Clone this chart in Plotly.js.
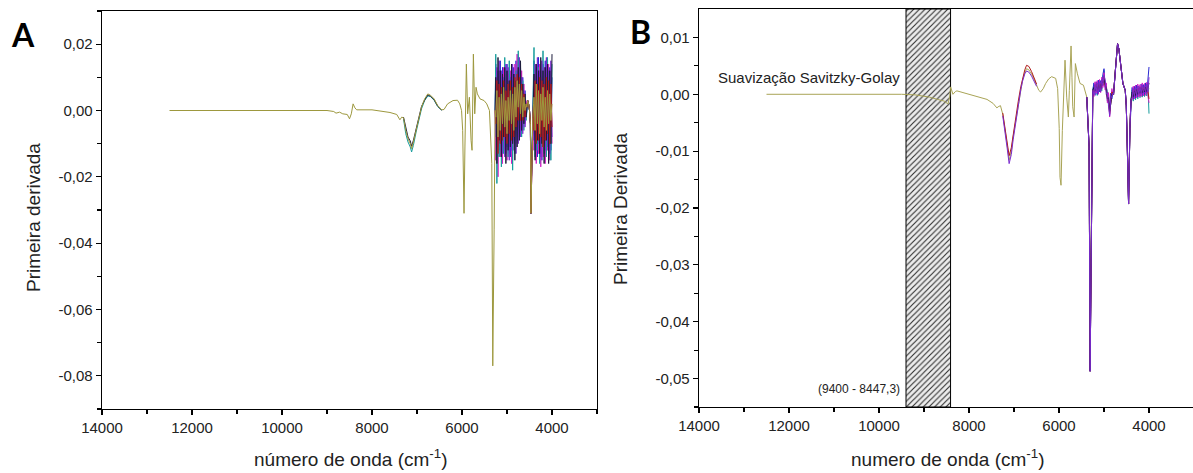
<!DOCTYPE html>
<html>
<head>
<meta charset="utf-8">
<script src="https://cdn.plot.ly/plotly-3.0.1.min.js"></script>
<style>html,body{margin:0;padding:0;background:#fff;}#chart{width:1193px;height:473px;}</style>
</head>
<body>
<div id="chart"></div>
<script>
// ---------- Panel A (primeira derivada, sem suavização) ----------
const A_head_x = [12500,12000,11500,11200,11000,10500,10000,9500,9000,8850,8800,8720,8650,8550,8500,8460,8420,8380,8340,8000,7800,7600,7450,7380,7340,7300,7250,7200,7150,7120,7080,7020,6950,6900,6830,6760,6700,6620,6540,6450,6400,6320,6200,6100,6050,6010,5985,5955,5935,5903,5874,5836,5799,5777,5747,5717,5688,5658,5600,5510,5450,5390,5338,5316,5286,5264];
const A_head_y = [0.0000,0.0000,0.0000,-0.0002,0.0000,-0.0001,0.0000,0.0000,0.0000,-0.0003,-0.0008,-0.0005,-0.0010,-0.0012,-0.0025,-0.0010,0.0020,0.0008,0.0002,0.0002,-0.0001,-0.0006,-0.0012,-0.0028,-0.0020,-0.0022,-0.0060,-0.0085,-0.0100,-0.0115,-0.0095,-0.0060,-0.0020,0.0010,0.0035,0.0050,0.0046,0.0035,0.0015,0.0002,0.0003,0.0020,0.0030,0.0031,0.0020,0.0000,-0.0060,-0.0310,-0.0110,0.0140,-0.0010,0.0040,-0.0090,-0.0120,0.0170,-0.0010,0.0070,0.0050,0.0035,0.0030,0.0020,0.0000,-0.0160,-0.0770,-0.0360,0.0000];

const A1_x = [5250,5225,5200,5175,5150,5125,5100,5075,5050,5025,5000,4975,4950,4925,4900,4875,4850,4825,4800,4775,4750,4725,4700,4675,4650,4625,4600,4575];
const A1_olive   = [-0.002,0.006,-0.008,0.004,-0.006,0.005,-0.004,0.007,-0.005,0.003,-0.007,0.004,-0.003,0.006,-0.004,0.005,-0.006,0.007,-0.002,0.009,0.001,0.008,-0.001,0.006,-0.002,0.004,0.000,0.002];
const A1_blue    = [0.014,-0.010,0.012,-0.012,0.015,-0.008,0.013,-0.011,0.011,-0.013,0.014,-0.009,0.012,-0.014,0.010,-0.012,0.013,-0.010,0.015,-0.006,0.016,-0.004,0.013,-0.005,0.010,-0.003,0.006,-0.002];
const A1_magenta = [-0.015,0.010,-0.020,0.012,-0.014,0.009,-0.016,0.013,-0.012,0.010,-0.015,0.011,-0.013,0.012,-0.016,0.009,-0.012,0.014,-0.010,0.017,-0.008,0.015,-0.006,0.012,-0.005,0.008,-0.004,0.003];
const A1_teal    = [0.017,-0.022,0.009,-0.014,0.011,-0.017,0.008,-0.013,0.016,-0.010,0.009,-0.014,0.015,-0.009,0.012,-0.018,0.010,-0.013,0.012,-0.009,0.018,-0.007,0.011,-0.008,0.009,-0.006,0.004,-0.003];
const A1_purple  = [-0.008,0.013,-0.011,0.015,-0.009,0.012,-0.013,0.010,-0.014,0.014,-0.011,0.013,-0.015,0.010,-0.012,0.014,-0.009,0.011,-0.013,0.012,-0.010,0.016,-0.008,0.010,-0.007,0.006,-0.005,0.001];
const A1_black   = [0.010,-0.016,0.016,-0.009,0.012,-0.014,0.011,-0.008,0.013,-0.016,0.012,-0.012,0.009,-0.011,0.014,-0.010,0.011,-0.015,0.009,-0.011,0.013,-0.009,0.015,-0.006,0.008,-0.004,0.005,-0.002];
const A1_red     = [-0.004,0.009,-0.013,0.008,-0.010,0.007,-0.009,0.009,-0.008,0.006,-0.010,0.008,-0.007,0.009,-0.009,0.007,-0.008,0.010,-0.005,0.011,-0.003,0.010,-0.003,0.008,-0.003,0.005,-0.002,0.002];

const A_mid_x = [4560,4540,4520,4500,4480,4468,4455,4440,4425,4410];
const A_mid_y = [0.001,0.003,0.002,0.000,-0.004,-0.031,-0.020,-0.010,-0.002,0.002];

const A2_x = [4400,4375,4350,4325,4300,4275,4250,4225,4200,4175,4150,4125,4100,4075,4050,4025,4000];
const A2_olive   = [0.004,-0.006,0.008,-0.004,0.006,-0.007,0.005,-0.003,0.007,-0.005,0.004,-0.006,0.006,-0.004,0.005,-0.003,0.002];
const A2_blue    = [0.015,-0.010,0.013,-0.014,0.016,-0.009,0.012,-0.015,0.014,-0.011,0.015,-0.013,0.011,-0.010,0.013,-0.012,0.010];
const A2_magenta = [-0.012,0.011,-0.016,0.012,-0.013,0.014,-0.017,0.010,-0.014,0.013,-0.016,0.011,-0.012,0.014,-0.015,0.012,-0.010];
const A2_teal    = [0.019,-0.014,0.010,-0.012,0.013,-0.016,0.009,-0.011,0.018,-0.013,0.010,-0.014,0.016,-0.012,0.011,-0.015,0.014];
const A2_purple  = [-0.009,0.014,-0.012,0.016,-0.010,0.012,-0.014,0.015,-0.009,0.013,-0.012,0.016,-0.011,0.012,-0.013,0.015,-0.008];
const A2_black   = [0.011,-0.015,0.014,-0.009,0.012,-0.013,0.016,-0.010,0.012,-0.016,0.013,-0.009,0.014,-0.016,0.012,-0.010,0.017];
const A2_red     = [-0.006,0.009,-0.010,0.008,-0.009,0.010,-0.008,0.009,-0.011,0.008,-0.009,0.010,-0.007,0.009,-0.010,0.008,-0.005];

const A_dip_x = [7300,7250,7200,7150,7120,7080,7020,6950,6900,6830,6760,6700,6620,6540,6450];
const A_dip_teal  = [-0.0025,-0.0070,-0.0095,-0.0110,-0.0125,-0.0105,-0.0065,-0.0025,0.0005,0.0030,0.0044,0.0042,0.0031,0.0012,0.0001];
const A_dip_black = [-0.0020,-0.0055,-0.0080,-0.0092,-0.0108,-0.0090,-0.0055,-0.0018,0.0012,0.0032,0.0047,0.0043,0.0033,0.0013,0.0001];

// ---------- Panel B (Savitzky-Golay) ----------
const B_head_x = [12500,12000,11500,11000,10500,10000,9500,9200,9000,8877,8700,8550,8468,8430,8409,8380,8357,8300,8268,8134,7900,7762,7600,7465,7380,7353,7301,7250,7204,7150,7108,7060,7019,6960,6907,6850,6810,6760,6721,6670,6610,6550,6498,6450,6409,6350,6297,6230,6164,6074,6030,5995,5978,5955,5926,5888,5866,5829,5792,5770,5732,5712,5695,5665,5636,5591,5532,5457,5383,5331,5309,5279,5249];
const B_head_y = [0.0000,0.0000,0.0000,0.0001,0.0000,0.0000,0.0000,-0.0001,-0.0003,-0.0005,-0.0009,-0.0012,-0.0017,-0.0005,0.0013,0.0004,0.0000,0.0005,0.0006,0.0003,-0.0002,-0.0005,-0.0009,-0.0016,-0.0024,-0.0022,-0.0020,-0.0035,-0.0058,-0.0090,-0.0116,-0.0100,-0.0075,-0.0045,-0.0016,0.0010,0.0025,0.0038,0.0045,0.0043,0.0036,0.0026,0.0016,0.0007,0.0004,0.0010,0.0019,0.0027,0.0031,0.0028,0.0010,-0.0060,-0.0146,-0.0160,-0.0064,0.0042,0.0060,-0.0005,-0.0040,0.0007,0.0085,0.0030,-0.0022,-0.0040,0.0054,0.0036,0.0019,0.0016,-0.0005,-0.0093,-0.0487,-0.0180,0.0007];

const B_lead_x = [5383,5331,5309,5279,5249];
const B_lead_y = [-0.0005,-0.0093,-0.0487,-0.0180,0.0007];

const B1_x = [5225,5200,5175,5150,5125,5100,5075,5050,5025,5000,4975,4950,4925,4900,4875,4850,4825,4800];
const B1_olive   = [0.0010,0.0004,0.0015,0.0006,0.0016,0.0011,0.0014,0.0015,0.0025,0.0028,0.0022,0.0006,-0.0002,-0.0012,-0.0026,-0.0012,0.0002,0.0001];
const B1_blue    = [0.0020,-0.0002,0.0022,0.0000,0.0025,0.0005,0.0024,0.0010,0.0035,0.0045,0.0012,0.0018,-0.0012,0.0002,-0.0036,0.0002,-0.0008,0.0004];
const B1_magenta = [-0.0004,0.0022,0.0002,0.0024,0.0000,0.0026,0.0003,0.0030,0.0012,0.0038,0.0008,0.0020,-0.0015,0.0003,-0.0040,-0.0005,0.0010,0.0000];
const B1_teal    = [0.0016,0.0002,0.0020,-0.0002,0.0022,0.0004,0.0020,0.0006,0.0030,0.0042,0.0014,0.0012,0.0005,-0.0020,-0.0022,-0.0018,0.0006,0.0003];
const B1_purple  = [0.0000,0.0018,0.0004,0.0020,0.0002,0.0022,0.0004,0.0026,0.0015,0.0034,0.0025,0.0000,0.0002,-0.0016,-0.0038,-0.0008,-0.0004,0.0002];
const B1_black   = [0.0012,0.0006,0.0010,0.0014,0.0008,0.0018,0.0010,0.0022,0.0020,0.0026,0.0018,0.0010,-0.0008,-0.0006,-0.0030,-0.0012,0.0000,0.0001];
const B1_red     = [0.0004,0.0016,0.0006,0.0018,0.0006,0.0020,0.0008,0.0024,0.0016,0.0032,0.0016,0.0004,0.0000,-0.0014,-0.0034,-0.0006,0.0004,0.0002];

const B_mid_x = [4788,4750,4720,4699,4670,4639,4610,4580,4528,4505,4491,4454,4424,4401];
const B_mid_y = [0.0000,0.0040,0.0075,0.0089,0.0080,0.0060,0.0035,0.0019,0.0007,-0.0020,-0.0064,-0.0193,-0.0060,-0.0010];

const B2_x = [4375,4350,4325,4300,4275,4250,4225,4200,4175,4150,4125,4100,4075,4050,4025,4000];
const B2_olive   = [0.0000,0.0006,-0.0002,0.0008,0.0000,0.0010,0.0002,0.0009,0.0003,0.0012,0.0004,0.0011,0.0005,0.0013,0.0006,0.0010];
const B2_blue    = [0.0012,-0.0008,0.0014,-0.0006,0.0016,-0.0004,0.0015,-0.0003,0.0018,-0.0002,0.0017,0.0000,0.0020,0.0002,0.0022,0.0048];
const B2_magenta = [-0.0010,0.0014,-0.0008,0.0016,-0.0006,0.0018,-0.0005,0.0017,-0.0004,0.0020,-0.0003,0.0019,-0.0002,0.0021,0.0000,-0.0015];
const B2_teal    = [0.0008,-0.0012,0.0010,-0.0010,0.0012,-0.0008,0.0011,-0.0006,0.0014,-0.0005,0.0016,-0.0004,0.0018,-0.0003,0.0016,-0.0034];
const B2_purple  = [-0.0006,0.0010,-0.0004,0.0012,-0.0002,0.0014,0.0000,0.0013,0.0001,0.0016,0.0002,0.0015,0.0003,0.0018,0.0004,0.0030];
const B2_black   = [0.0004,-0.0004,0.0006,-0.0002,0.0008,0.0000,0.0007,0.0002,0.0010,0.0003,0.0009,0.0004,0.0012,0.0005,0.0010,0.0020];
const B2_red     = [-0.0003,0.0008,-0.0001,0.0010,0.0002,0.0011,0.0001,0.0012,0.0003,0.0013,0.0004,0.0014,0.0005,0.0015,0.0006,-0.0008];

const B_dip_x = [7250,7204,7150,7108,7060,7019,6960,6907,6850,6810,6760,6721,6670,6610,6550,6498];
const B_dip_purple = [-0.0038,-0.0062,-0.0096,-0.0122,-0.0106,-0.0080,-0.0048,-0.0018,0.0008,0.0023,0.0036,0.0041,0.0039,0.0032,0.0023,0.0014];
const B_dip_red    = [-0.0033,-0.0055,-0.0085,-0.0108,-0.0094,-0.0070,-0.0042,-0.0013,0.0013,0.0028,0.0043,0.0051,0.0049,0.0040,0.0029,0.0018];

// excluded region (hatched)
const B_excl_x = [9400, 8410];

// ---------- ticks ----------
const X_ticks = [14000,12000,10000,8000,6000,4000];
const X_ticktext = ['14000','12000','10000','8000','6000','4000'];
const X_minor = [13000,11000,9000,7000,5000,3000];
const A_yticks = [0.02,0,-0.02,-0.04,-0.06,-0.08];
const A_ytext = ['0,02','0,00','-0,02','-0,04','-0,06','-0,08'];
const A_yminor = [0.03,0.01,-0.01,-0.03,-0.05,-0.07,-0.09];
const B_yticks = [0.01,0,-0.01,-0.02,-0.03,-0.04,-0.05];
const B_ytext = ['0,01','0,00','-0,01','-0,02','-0,03','-0,04','-0,05'];
const B_yminor = [0.005,-0.005,-0.015,-0.025,-0.035,-0.045,-0.055];

// ---------- colours ----------
const OLIVE = '#9d983e';
const OLIVE_B = '#a9a456';
const COLS = {blue:'#2a2ad2', magenta:'#d41ec6', teal:'#169c9c', purple:'#7b2bd0', black:'#1c1c3c', red:'#b01a1a'};

const traces = [];
function line(x, y, color, xa, ya, w) {
  traces.push({type:'scatter', mode:'lines', x:x, y:y, xaxis:xa, yaxis:ya,
    line:{color:color, width:w||1}, hoverinfo:'skip', showlegend:false});
}

// Panel A
const A_series = {blue:[A1_blue,A2_blue], magenta:[A1_magenta,A2_magenta], teal:[A1_teal,A2_teal],
  purple:[A1_purple,A2_purple], black:[A1_black,A2_black], red:[A1_red,A2_red]};
const A_noise_x = [5264].concat(A1_x, A_mid_x, A2_x);
for (const k in A_series) {
  line(A_noise_x, [0].concat(A_series[k][0], A_mid_y, A_series[k][1]), COLS[k], 'x', 'y');
}
line(A_dip_x, A_dip_teal, COLS.teal, 'x', 'y');
line(A_dip_x, A_dip_black, COLS.black, 'x', 'y');
line(A_head_x.concat(A1_x, A_mid_x, A2_x), A_head_y.concat(A1_olive, A_mid_y, A2_olive), OLIVE, 'x', 'y');

// Panel B hatched region
traces.push({type:'scatter', mode:'lines', xaxis:'x2', yaxis:'y2',
  x:[B_excl_x[0],B_excl_x[0],B_excl_x[1],B_excl_x[1],B_excl_x[0]],
  y:[-0.055,0.015,0.015,-0.055,-0.055], fill:'toself',
  fillcolor:'#ffffff',
  fillpattern:{shape:'/', fgcolor:'#303030', bgcolor:'#ececec', size:4, solidity:0.28},
  line:{color:'#000', width:1}, hoverinfo:'skip', showlegend:false});

line(B_head_x.concat(B1_x, B_mid_x, B2_x), B_head_y.concat(B1_olive, B_mid_y, B2_olive), OLIVE_B, 'x2', 'y2');
const B_series = {teal:[B1_teal,B2_teal], blue:[B1_blue,B2_blue], magenta:[B1_magenta,B2_magenta],
  red:[B1_red,B2_red], black:[B1_black,B2_black], purple:[B1_purple,B2_purple]};
const B_noise_x = B_lead_x.concat(B1_x, B_mid_x, B2_x);
for (const k in B_series) {
  line(B_noise_x, B_lead_y.concat(B_series[k][0], B_mid_y, B_series[k][1]), COLS[k], 'x2', 'y2');
}
line(B_dip_x, B_dip_red, COLS.red, 'x2', 'y2');
line(B_dip_x, B_dip_purple, COLS.purple, 'x2', 'y2');

const FONT = 'Liberation Sans, Arial, sans-serif';
const tickfont = {family:FONT, size:15, color:'#222'};
function xax(domain, range, anchor) {
  return {domain:domain, range:range, anchor:anchor, showline:true, linecolor:'#000', linewidth:1.4,
    mirror:true, ticks:'outside', ticklen:5, tickwidth:1.2, tickcolor:'#000',
    tickmode:'array', tickvals:X_ticks, ticktext:X_ticktext, tickfont:tickfont,
    minor:{tickmode:'array', tickvals:X_minor, ticks:'outside', ticklen:4, tickwidth:1.1, tickcolor:'#000', showgrid:false},
    showgrid:false, zeroline:false, fixedrange:true};
}
function yax(domain, range, anchor, tv, tt, mv, mirror) {
  return {domain:domain, range:range, anchor:anchor, showline:true, linecolor:'#000', linewidth:1.4,
    mirror:mirror, ticks:'outside', ticklen:5, tickwidth:1.2, tickcolor:'#000',
    tickmode:'array', tickvals:tv, ticktext:tt, tickfont:tickfont,
    minor:{tickmode:'array', tickvals:mv, ticks:'outside', ticklen:4, tickwidth:1.1, tickcolor:'#000', showgrid:false},
    showgrid:false, zeroline:false, fixedrange:true};
}

const W = 1193, H = 473;
const layout = {
  width:W, height:H, margin:{l:0,r:0,t:0,b:0}, paper_bgcolor:'#fff', plot_bgcolor:'rgba(0,0,0,0)',
  showlegend:false, hovermode:false,
  xaxis: xax([102/W, 597/W], [14000, 3000], 'y'),
  yaxis: yax([(H-409)/H, (H-11)/H], [-0.09, 0.03], 'x', A_yticks, A_ytext, A_yminor, true),
  xaxis2: xax([699/W, 1], [14000, 14000 - (W-699)/0.045], 'y2'),
  yaxis2: yax([(H-407)/H, (H-9)/H], [-0.055, 0.015], 'x2', B_yticks, B_ytext, B_yminor, false),
  annotations: [
    {text:'<b>A</b>', xref:'paper', yref:'paper', x:23/W, y:1-34/H, xanchor:'center', yanchor:'middle', showarrow:false,
      font:{family:'Lato, Open Sans, sans-serif', size:32, color:'#000'}},
    {text:'<b>B</b>', xref:'paper', yref:'paper', x:640/W, y:1-32/H, xanchor:'center', yanchor:'middle', showarrow:false,
      font:{family:'Lato, Open Sans, sans-serif', size:32, color:'#000'}},
    {text:'Primeira derivada', xref:'paper', yref:'paper', x:33/W, y:1-218/H, textangle:-90, xanchor:'center', yanchor:'middle', showarrow:false,
      font:{family:FONT, size:19, color:'#222'}},
    {text:'Primeira Derivada', xref:'paper', yref:'paper', x:620/W, y:1-209/H, textangle:-90, xanchor:'center', yanchor:'middle', showarrow:false,
      font:{family:FONT, size:19, color:'#222'}},
    {text:'número de onda (cm<sup>-1</sup>)', xref:'x', yref:'paper', x:8470, y:1-458/H, xanchor:'center', yanchor:'middle', showarrow:false,
      font:{family:FONT, size:19, color:'#222'}},
    {text:'numero de onda (cm<sup>-1</sup>)', xref:'x2', yref:'paper', x:8470, y:1-458/H, xanchor:'center', yanchor:'middle', showarrow:false,
      font:{family:FONT, size:19, color:'#222'}},
    {text:'Suavização Savitzky-Golay', xref:'x2', yref:'y2', x:9480, y:0.0029, xanchor:'right', yanchor:'middle', showarrow:false,
      font:{family:FONT, size:15, color:'#222'}},
    {text:'(9400 - 8447,3)', xref:'x2', yref:'y2', x:9480, y:-0.0518, xanchor:'right', yanchor:'middle', showarrow:false,
      font:{family:FONT, size:12, color:'#222'}}
  ]
};

Plotly.newPlot('chart', traces, layout, {staticPlot:true, displayModeBar:false});
</script>
</body>
</html>
